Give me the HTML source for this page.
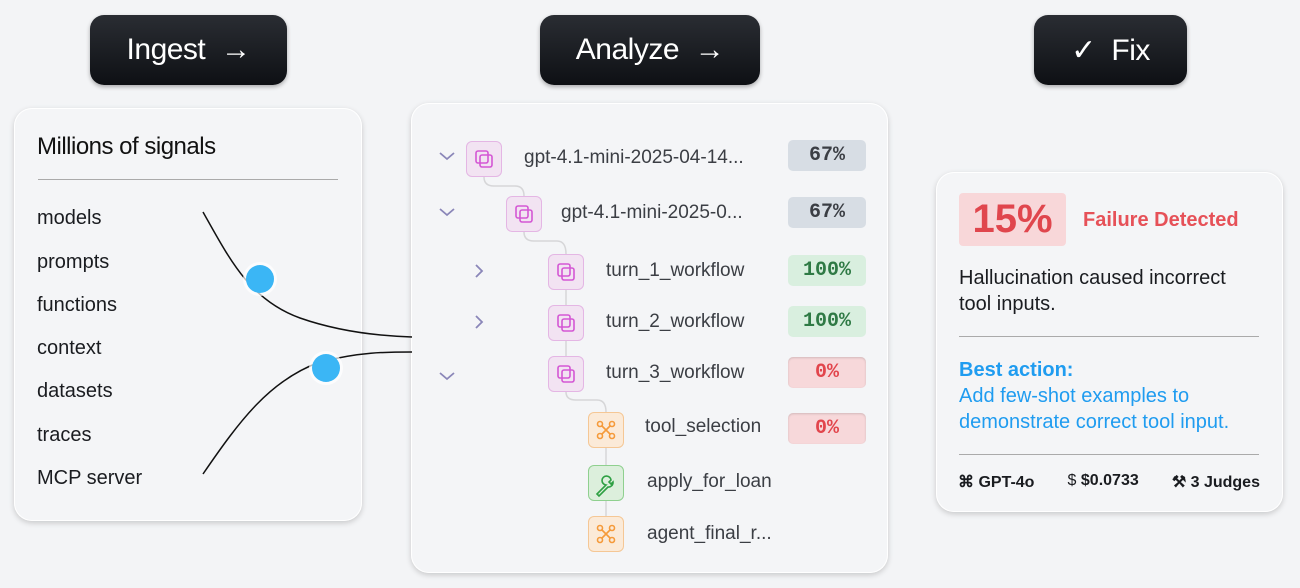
<!DOCTYPE html>
<html><head><style>
body{margin:0;width:1300px;height:588px;background:#f3f4f6;font-family:"Liberation Sans",sans-serif;position:relative;overflow:hidden}
.btn{position:absolute;top:15px;height:70px;border-radius:14px;background:linear-gradient(#2a2d33,#0e1014);color:#fff;font-size:30px;display:flex;align-items:center;justify-content:center;box-shadow:0 2px 4px rgba(0,0,0,.3);letter-spacing:-0.5px}
.card{position:absolute;background:#f4f5f7;border-radius:18px;box-shadow:0 2px 6px rgba(0,0,0,.18),0 0 0 1px #fff inset}
.it{position:absolute;left:37px;font-size:20px;color:#1a1c20}
.ic{position:absolute;width:36px;height:36px;border-radius:6px;box-sizing:border-box}
.pk{background:#f2e3f2;border:1.5px solid #e4b6e4}
.or{background:#fbead8;border:1.5px solid #f5c795}
.gr{background:#dcefdc;border:1.5px solid #8fd08f}
.tx{position:absolute;font-size:19px;color:#3b3e44}
.bd{position:absolute;left:788px;width:78px;height:31px;border-radius:5px;font-family:"Liberation Mono",monospace;font-weight:bold;font-size:20px;display:flex;align-items:center;justify-content:center}
.g1{background:#d7dde4;color:#3b3e44}.g2{background:#d9efdf;color:#2f7a45}.g3{background:#f7d8da;color:#e2454c;box-shadow:inset 0 1px 2px rgba(0,0,0,.15)}
</style></head><body>
<div class="btn" style="left:90px;width:197px">Ingest&nbsp;&nbsp;→</div>
<div class="btn" style="left:540px;width:220px">Analyze&nbsp;&nbsp;→</div>
<div class="btn" style="left:1034px;width:153px">✓&nbsp;&nbsp;Fix</div>

<div class="card" style="left:14px;top:108px;width:348px;height:413px"></div>
<div style="position:absolute;left:37px;top:133px;font-size:24px;color:#111;letter-spacing:-0.5px">Millions of signals</div>
<div style="position:absolute;left:38px;top:179px;width:300px;height:1px;background:#aaa"></div>
<div class="it" style="top:207px">models</div>
<div class="it" style="top:251px">prompts</div>
<div class="it" style="top:294px">functions</div>
<div class="it" style="top:337px">context</div>
<div class="it" style="top:380px">datasets</div>
<div class="it" style="top:424px">traces</div>
<div class="it" style="top:467px">MCP server</div>

<div class="card" style="left:411px;top:103px;width:477px;height:470px"></div>
<div class="card" style="left:936px;top:172px;width:347px;height:340px"></div>

<svg style="position:absolute;left:0;top:0" width="1300" height="588">
<path d="M203 212 C230 260,250 300,300 318 C340 332,380 336,412 337" fill="none" stroke="#111" stroke-width="1.5"/>
<path d="M203 474 C240 420,270 380,320 362 C360 352,385 352,412 352" fill="none" stroke="#111" stroke-width="1.5"/>
<circle cx="260" cy="279" r="17" fill="#fff" opacity=".7"/><circle cx="260" cy="279" r="14" fill="#3bb6f5"/>
<circle cx="326" cy="368" r="17" fill="#fff" opacity=".7"/><circle cx="326" cy="368" r="14" fill="#3bb6f5"/>
<g fill="none" stroke="#d6d6d8" stroke-width="1.5">
<path d="M484 177 Q484 186 494 186 L515 186 Q524 186 524 196"/>
<path d="M524 232 Q524 241 534 241 L557 241 Q566 241 566 254"/>
<path d="M566 290 L566 305 M566 341 L566 356"/>
<path d="M566 392 Q566 400 576 400 L597 400 Q606 400 606 412"/>
<path d="M606 448 L606 465 M606 501 L606 516"/>
</g>
<g fill="none" stroke="#8a86b8" stroke-width="1.8">
<path d="M440 153 l7 6 l7 -6"/><path d="M440 209 l7 6 l7 -6"/><path d="M476 265 l6 6 l-6 6"/><path d="M476 316 l6 6 l-6 6"/><path d="M440 373 l7 6 l7 -6"/>
</g>
</svg>

<div class="ic pk" style="left:466px;top:141px"></div>
<div class="ic pk" style="left:506px;top:196px"></div>
<div class="ic pk" style="left:548px;top:254px"></div>
<div class="ic pk" style="left:548px;top:305px"></div>
<div class="ic pk" style="left:548px;top:356px"></div>
<div class="ic or" style="left:588px;top:412px"></div>
<div class="ic gr" style="left:588px;top:465px"></div>
<div class="ic or" style="left:588px;top:516px"></div>
<svg style="position:absolute;left:0;top:0" width="1300" height="588">
<g fill="none" stroke="#d457d4" stroke-width="1.6">
<g transform="translate(476,151)"><rect x="0" y="0" width="12" height="12" rx="2"/><rect x="4" y="4" width="12" height="12" rx="2"/></g>
<g transform="translate(516,206)"><rect x="0" y="0" width="12" height="12" rx="2"/><rect x="4" y="4" width="12" height="12" rx="2"/></g>
<g transform="translate(558,264)"><rect x="0" y="0" width="12" height="12" rx="2"/><rect x="4" y="4" width="12" height="12" rx="2"/></g>
<g transform="translate(558,315)"><rect x="0" y="0" width="12" height="12" rx="2"/><rect x="4" y="4" width="12" height="12" rx="2"/></g>
<g transform="translate(558,366)"><rect x="0" y="0" width="12" height="12" rx="2"/><rect x="4" y="4" width="12" height="12" rx="2"/></g>
</g>
<g fill="none" stroke="#f59a3a" stroke-width="1.6">
<g transform="translate(597,421)"><circle cx="3" cy="3" r="2.5"/><circle cx="15" cy="3" r="2.5"/><circle cx="3" cy="15" r="2.5"/><circle cx="15" cy="15" r="2.5"/><path d="M5 5 L13 13 M13 5 L5 13"/></g>
<g transform="translate(597,525)"><circle cx="3" cy="3" r="2.5"/><circle cx="15" cy="3" r="2.5"/><circle cx="3" cy="15" r="2.5"/><circle cx="15" cy="15" r="2.5"/><path d="M5 5 L13 13 M13 5 L5 13"/></g>
</g>
<path d="M597 494 l9 -9 a4.5 4.5 0 1 1 5 -5 l-2 2 2 2 2 -2 a4.5 4.5 0 0 1 -5 5 l-9 9 z" fill="none" stroke="#2ea043" stroke-width="1.6"/>
</svg>
<div class="tx" style="left:524px;top:147px">gpt-4.1-mini-2025-04-14...</div>
<div class="tx" style="left:561px;top:202px">gpt-4.1-mini-2025-0...</div>
<div class="tx" style="left:606px;top:260px">turn_1_workflow</div>
<div class="tx" style="left:606px;top:311px">turn_2_workflow</div>
<div class="tx" style="left:606px;top:362px">turn_3_workflow</div>
<div class="tx" style="left:645px;top:416px">tool_selection</div>
<div class="tx" style="left:647px;top:471px">apply_for_loan</div>
<div class="tx" style="left:647px;top:523px">agent_final_r...</div>
<div class="bd g1" style="top:140px">67%</div>
<div class="bd g1" style="top:197px">67%</div>
<div class="bd g2" style="top:255px">100%</div>
<div class="bd g2" style="top:306px">100%</div>
<div class="bd g3" style="top:357px">0%</div>
<div class="bd g3" style="top:413px">0%</div>

<div style="position:absolute;left:959px;top:193px;width:107px;height:53px;background:#f8d7d9;border-radius:4px;color:#e0464d;font-size:40px;font-weight:bold;display:flex;align-items:center;justify-content:center">15%</div>
<div style="position:absolute;left:1083px;top:209px;color:#e65158;font-size:20px;font-weight:bold">Failure Detected</div>
<div style="position:absolute;left:959px;top:265px;font-size:20px;color:#1a1c20;line-height:26px">Hallucination caused incorrect<br>tool inputs.</div>
<div style="position:absolute;left:959px;top:336px;width:300px;height:1px;background:#aaa"></div>
<div style="position:absolute;left:959px;top:357px;font-size:20px;color:#1f9cf0;line-height:26px"><b>Best action:</b><br>Add few-shot examples to<br>demonstrate correct tool input.</div>
<div style="position:absolute;left:959px;top:454px;width:300px;height:1px;background:#aaa"></div>
<div style="position:absolute;left:958px;top:472px;width:302px;font-size:16px;font-weight:bold;color:#1a1c20;white-space:nowrap;display:flex;justify-content:space-between"><span>⌘ GPT-4o</span><span><span style="font-weight:normal">$</span> $0.0733</span><span>⚒ 3 Judges</span></div>
</body></html>
